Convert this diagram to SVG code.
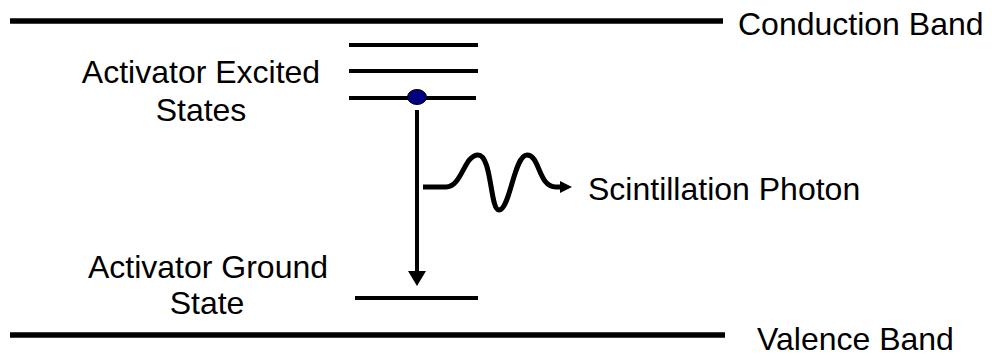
<svg xmlns="http://www.w3.org/2000/svg" width="992" height="356" viewBox="0 0 992 356">
  <style>
    .lbl { font-family: "Liberation Sans", Arial, sans-serif; font-size: 32px; fill: #000; }
    .band { stroke: #000; stroke-width: 5.5; fill: none; }
    .lvl { stroke: #000; stroke-width: 4; fill: none; }
    .conn { stroke: #000; fill: none; }
  </style>
  <rect width="992" height="356" fill="#fff"/>
  <g id="conduction-band">
    <line class="band" x1="10" y1="21" x2="723" y2="21"/>
    <text class="lbl" x="738" y="35">Conduction Band</text>
  </g>
  <g id="valence-band">
    <line class="band" x1="10" y1="335" x2="725" y2="335"/>
    <text class="lbl" x="757" y="350">Valence Band</text>
  </g>
  <g id="excited-states">
    <line class="lvl" x1="349" y1="45" x2="478" y2="45"/>
    <line class="lvl" x1="349" y1="71" x2="478" y2="71"/>
    <line class="lvl" x1="349" y1="98" x2="476" y2="98"/>
    <ellipse cx="417" cy="97" rx="9.5" ry="7.5" fill="#000080" stroke="#000" stroke-width="1"/>
    <text class="lbl" x="201" y="83" text-anchor="middle">Activator Excited</text>
    <text class="lbl" x="201" y="121" text-anchor="middle">States</text>
  </g>
  <g id="ground-state">
    <line class="lvl" x1="355" y1="298" x2="478" y2="298"/>
    <text class="lbl" x="208" y="278" text-anchor="middle">Activator Ground</text>
    <text class="lbl" x="207" y="314" text-anchor="middle">State</text>
  </g>
  <g id="photon">
    <text class="lbl" x="588" y="200">Scintillation Photon</text>
  </g>
  <g id="connectors">
    <line class="conn" x1="417" y1="110" x2="417" y2="274" stroke-width="4"/>
    <polygon points="408,271 426,271 417,286" fill="#000"/>
    <path class="conn" stroke-width="5" stroke-linejoin="round" d="M423,187 L446,187 C462,187 464,155 478,155 C492,155 490,210 499,210 C510,210 514,155 527,155 C540,155 538,187 556,187 L563,187"/>
    <polygon points="560,181 572,187 560,193" fill="#000"/>
  </g>
</svg>
